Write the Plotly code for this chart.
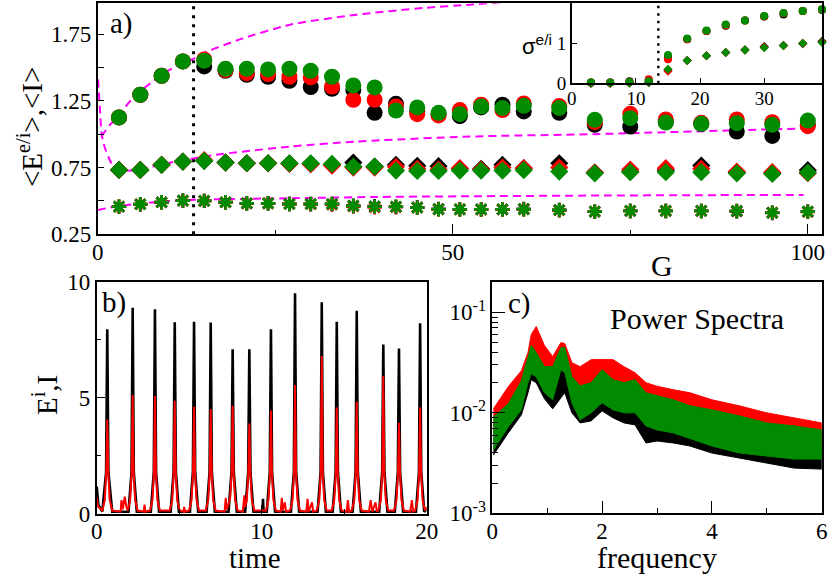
import numpy as np
import plotly.graph_objects as go

# ---------------- data: panel a ----------------
G = [3, 6, 9, 12, 15, 18, 21, 24, 27, 30, 33, 36, 39, 42, 45, 48, 51, 54, 57, 60,
     65, 70, 75, 80, 85, 90, 95, 100]

circ_black = [1.125, 1.295, 1.437, 1.545, 1.507, 1.475, 1.445, 1.43, 1.40, 1.353, 1.34, 1.33, 1.16, 1.227,
              1.17, 1.15, 1.135, 1.20, 1.22, 1.17, 1.16, 1.07, 1.057, 1.095, 1.077, 1.02, 0.987, 1.07]
circ_red = [1.125, 1.295, 1.437, 1.545, 1.56, 1.48, 1.457, 1.45, 1.43, 1.425, 1.357, 1.257, 1.257, 1.207,
            1.15, 1.14, 1.18, 1.22, 1.18, 1.23, 1.21, 1.09, 1.152, 1.11, 1.085, 1.11, 1.09, 1.06]
circ_green = [1.125, 1.295, 1.437, 1.545, 1.55, 1.49, 1.49, 1.485, 1.49, 1.475, 1.43, 1.365, 1.35, 1.177,
              1.2, 1.16, 1.15, 1.207, 1.195, 1.212, 1.195, 1.107, 1.12, 1.087, 1.077, 1.082, 1.07, 1.102]

diam_black = [0.732, 0.732, 0.77, 0.795, 0.80, 0.787, 0.782, 0.782, 0.78, 0.778, 0.772, 0.787, 0.757, 0.77,
              0.763, 0.76, 0.74, 0.74, 0.77, 0.745, 0.782, 0.712, 0.72, 0.73, 0.765, 0.712, 0.708, 0.73]
diam_red = [0.732, 0.732, 0.77, 0.795, 0.805, 0.787, 0.782, 0.782, 0.778, 0.775, 0.765, 0.75, 0.75, 0.755,
            0.74, 0.735, 0.745, 0.735, 0.75, 0.745, 0.75, 0.712, 0.735, 0.745, 0.74, 0.72, 0.715, 0.708]
diam_green = [0.732, 0.732, 0.77, 0.795, 0.80, 0.787, 0.782, 0.782, 0.782, 0.782, 0.777, 0.757, 0.757, 0.727,
              0.725, 0.725, 0.727, 0.727, 0.727, 0.73, 0.72, 0.707, 0.715, 0.715, 0.715, 0.707, 0.702, 0.712]

star_black = [0.457, 0.475, 0.49, 0.502, 0.5, 0.49, 0.482, 0.482, 0.477, 0.477, 0.477, 0.465, 0.46, 0.455,
              0.452, 0.44, 0.437, 0.437, 0.437, 0.44, 0.432, 0.42, 0.425, 0.425, 0.425, 0.422, 0.41, 0.42]
star_red = [0.457, 0.475, 0.49, 0.502, 0.5, 0.49, 0.482, 0.482, 0.477, 0.475, 0.472, 0.458, 0.452, 0.455,
            0.45, 0.437, 0.437, 0.435, 0.437, 0.437, 0.43, 0.42, 0.425, 0.425, 0.425, 0.425, 0.412, 0.418]
star_green = [0.457, 0.475, 0.49, 0.502, 0.5, 0.49, 0.482, 0.482, 0.477, 0.477, 0.477, 0.462, 0.457, 0.457,
              0.45, 0.437, 0.437, 0.437, 0.437, 0.437, 0.432, 0.42, 0.425, 0.425, 0.425, 0.425, 0.412, 0.42]

# magenta dashed guide curves
up_g = [0.5, 1.7, 2.9, 4.3, 5.7, 7.4, 9.0, 11.4, 13.2, 14.9, 20, 27.1, 36.5, 45.9, 52.4, 60]
up_v = [0.98, 1.07, 1.13, 1.23, 1.31, 1.38, 1.445, 1.52, 1.557, 1.607, 1.71, 1.82, 1.895, 1.945, 1.97, 2.0]
mid_g = [0.05, 0.3, 0.56, 1.0, 1.5, 2.2, 3.4, 5.3, 8.1, 10.9, 13.7, 16.5, 27.1, 36.5, 52.4, 69.8, 88.6, 101]
mid_v = [1.41, 1.2, 1.0, 0.9, 0.83, 0.757, 0.725, 0.732, 0.762, 0.795, 0.82, 0.845, 0.907, 0.945, 0.982,
         1.0, 1.027, 1.045]
low_g = [0, 2.4, 5.3, 9, 12.8, 16, 27, 40, 52.4, 70, 85, 99.4]
low_v = [0.432, 0.457, 0.477, 0.495, 0.507, 0.512, 0.52, 0.53, 0.535, 0.54, 0.543, 0.545]

G_c = 13.5

# inset: sigma
Gi = [3, 6, 9, 12, 15, 18, 21, 24, 27, 30, 33, 36, 39]
sig_c_black = [0.02, 0.02, 0.05, 0.07, 0.65, 1.1, 1.31, 1.44, 1.57, 1.67, 1.72, 1.81, 1.83]
sig_c_red = [0.02, 0.02, 0.04, 0.1, 0.6, 1.1, 1.31, 1.45, 1.57, 1.67, 1.75, 1.81, 1.85]
sig_c_green = [0.02, 0.02, 0.03, 0.05, 0.71, 1.12, 1.32, 1.47, 1.57, 1.68, 1.76, 1.81, 1.85]
sig_d_black = [0.0, 0.0, 0.01, 0.02, 0.33, 0.57, 0.69, 0.77, 0.84, 0.92, 0.95, 0.99, 1.05]
sig_d_red = [0.0, 0.0, 0.01, 0.02, 0.30, 0.57, 0.69, 0.77, 0.83, 0.90, 0.94, 1.0, 1.03]
sig_d_green = [0.0, 0.0, 0.01, 0.02, 0.35, 0.57, 0.69, 0.77, 0.83, 0.89, 0.94, 1.0, 1.02]

# ---------------- data: panel b (time series) ----------------
t_e = [0, 0.1, 0.34, 0.57, 0.64, 0.71, 0.94,
       1.93, 2.11, 2.18, 2.25, 2.43,
       3.28, 3.46, 3.53, 3.60, 3.78,
       4.48, 4.66, 4.73, 4.80, 4.98,
       5.65, 5.83, 5.90, 5.97, 6.15,
       6.66, 6.84, 6.91, 6.98, 7.16,
       7.99, 8.17, 8.24, 8.31, 8.49,
       9.00, 9.18, 9.25, 9.32, 9.50,
       10.05, 10.08, 10.11,
       10.31, 10.49, 10.56, 10.63, 10.81,
       11.77, 11.95, 12.02, 12.09, 12.27,
       13.39, 13.57, 13.64, 13.71, 13.89,
       14.30, 14.48, 14.55, 14.62, 14.80,
       15.51, 15.69, 15.76, 15.83, 16.01,
       17.12, 17.30, 17.37, 17.44, 17.62,
       18.07, 18.25, 18.32, 18.39, 18.57,
       19.35, 19.53, 19.60, 19.67, 19.85, 20.0]
e_val = [1.18, 0.4, 0.1, 1.8, 7.95, 1.8, 0.1,
         0.1, 1.8, 8.88, 1.8, 0.1,
         0.1, 1.8, 8.81, 1.8, 0.1,
         0.1, 1.8, 8.25, 1.8, 0.1,
         0.1, 1.8, 8.28, 1.8, 0.1,
         0.1, 1.8, 8.24, 1.8, 0.1,
         0.1, 1.8, 7.09, 1.8, 0.1,
         0.1, 1.8, 7.09, 1.8, 0.1,
         0.1, 0.65, 0.1,
         0.1, 1.8, 7.95, 1.8, 0.1,
         0.1, 1.8, 9.50, 1.8, 0.1,
         0.1, 1.8, 9.11, 1.8, 0.1,
         0.1, 1.8, 8.28, 1.8, 0.1,
         0.1, 1.8, 8.75, 1.8, 0.1,
         0.1, 1.8, 7.30, 1.8, 0.1,
         0.1, 1.8, 7.12, 1.8, 0.1,
         0.1, 1.8, 8.21, 1.8, 0.1, 0.2]

t_i = [0, 0.1, 0.34, 0.49, 0.58, 0.64, 0.70, 0.79, 0.94,
       1.45, 1.5, 1.58, 1.7, 1.8,
       1.88, 2.03, 2.12, 2.18, 2.24, 2.33, 2.48,
       2.85, 2.9, 2.95,
       3.23, 3.38, 3.47, 3.53, 3.59, 3.68, 3.83,
       4.43, 4.58, 4.67, 4.73, 4.79, 4.88, 5.03,
       5.25, 5.3, 5.35,
       5.60, 5.75, 5.84, 5.90, 5.96, 6.05, 6.20,
       6.61, 6.76, 6.85, 6.91, 6.97, 7.06, 7.21,
       7.75, 7.82, 7.88,
       7.94, 8.09, 8.18, 8.24, 8.30, 8.39, 8.54,
       8.85, 8.95, 9.0,
       9.02, 9.10, 9.19, 9.25, 9.31, 9.40, 9.55,
       10.26, 10.41, 10.50, 10.56, 10.62, 10.71, 10.86,
       11.15, 11.22, 11.28, 11.4, 11.48,
       11.72, 11.87, 11.96, 12.02, 12.08, 12.17, 12.32,
       12.7, 12.78, 12.85, 13.05, 13.12,
       13.34, 13.49, 13.58, 13.64, 13.70, 13.79, 13.94,
       14.25, 14.40, 14.49, 14.55, 14.61, 14.70, 14.85,
       15.15, 15.22, 15.3,
       15.46, 15.61, 15.70, 15.76, 15.82, 15.91, 16.06,
       16.5, 16.6, 16.7, 16.9, 16.98,
       17.07, 17.22, 17.31, 17.37, 17.43, 17.52, 17.67,
       18.02, 18.17, 18.26, 18.32, 18.38, 18.47, 18.62,
       19.0, 19.1, 19.18,
       19.30, 19.45, 19.54, 19.60, 19.66, 19.75, 19.90, 20.0]
i_val = [0.7, 0.3, 0.15, 0.6, 1.8, 4.07, 1.8, 0.6, 0.15,
         0.1, 0.6, 0.2, 0.75, 0.3,
         0.15, 0.6, 1.8, 5.12, 1.8, 0.6, 0.15,
         0.1, 0.4, 0.1,
         0.15, 0.6, 1.8, 5.08, 1.8, 0.6, 0.15,
         0.15, 0.6, 1.8, 4.88, 1.8, 0.6, 0.15,
         0.1, 0.3, 0.1,
         0.15, 0.6, 1.8, 4.62, 1.8, 0.6, 0.15,
         0.15, 0.6, 1.8, 4.52, 1.8, 0.6, 0.15,
         0.1, 0.7, 0.2,
         0.3, 0.7, 1.8, 4.66, 1.8, 0.6, 0.15,
         0.1, 0.8, 0.3,
         0.35, 0.6, 1.8, 3.90, 1.8, 0.6, 0.15,
         0.15, 0.6, 1.8, 4.45, 1.8, 0.6, 0.15,
         0.1, 0.7, 0.15, 0.5, 0.1,
         0.15, 0.6, 1.8, 5.55, 1.8, 0.6, 0.15,
         0.1, 0.65, 0.1, 0.5, 0.1,
         0.15, 0.6, 1.8, 6.80, 1.8, 0.6, 0.15,
         0.15, 0.6, 1.8, 4.58, 1.8, 0.6, 0.15,
         0.1, 0.6, 0.1,
         0.15, 0.6, 1.8, 4.83, 1.8, 0.6, 0.15,
         0.1, 0.6, 0.1, 0.5, 0.1,
         0.15, 0.6, 1.8, 5.94, 1.8, 0.6, 0.15,
         0.15, 0.6, 1.8, 3.93, 1.8, 0.6, 0.15,
         0.1, 0.6, 0.1,
         0.15, 0.6, 1.8, 4.58, 1.8, 0.6, 0.15, 0.3]

# ---------------- data: panel c (power spectra, log10 envelopes) ----------------
freq = [0.02, 0.29, 0.53, 0.65, 0.71, 0.8, 0.95, 1.1, 1.25, 1.32, 1.45, 1.6, 1.8, 2.0, 2.2, 2.4,
        2.6, 2.8, 3.0, 3.3, 3.6, 4.0, 4.5, 5.0, 5.5, 6.0]
red_top = [-1.96, -1.74, -1.58, -1.40, -1.22, -1.14, -1.33, -1.44, -1.30, -1.31, -1.50, -1.54, -1.47,
           -1.47, -1.47, -1.54, -1.60, -1.70, -1.735, -1.77, -1.80, -1.87, -1.93, -2.0, -2.05, -2.10]
red_bot = [-2.14, -2.01, -1.81, -1.62, -1.44, -1.44, -1.57, -1.60, -1.47, -1.47, -1.70, -1.735, -1.735,
           -1.70, -1.735, -1.77, -1.83, -1.93, -1.97, -2.0, -2.07, -2.13, -2.20, -2.26, -2.30, -2.33]
green_top = [-2.04, -1.91, -1.68, -1.44, -1.33, -1.40, -1.54, -1.54, -1.35, -1.35, -1.64, -1.73, -1.70,
             -1.57, -1.67, -1.70, -1.67, -1.80, -1.83, -1.87, -1.93, -1.97, -2.03, -2.10, -2.13, -2.17]
green_bot = [-2.37, -2.14, -1.97, -1.70, -1.61, -1.64, -1.80, -1.87, -1.57, -1.60, -1.90, -2.07, -2.0,
             -1.90, -1.97, -2.0, -2.0, -2.13, -2.17, -2.20, -2.26, -2.33, -2.40, -2.43, -2.46, -2.46]
black_top = [-2.10, -1.95, -1.72, -1.50, -1.40, -1.45, -1.60, -1.63, -1.55, -1.50, -1.70, -1.76, -1.74,
             -1.62, -1.71, -1.74, -1.72, -1.84, -1.87, -1.91, -1.97, -2.0, -2.07, -2.13, -2.16, -2.20]
black_bot = [-2.42, -2.20, -2.02, -1.80, -1.67, -1.70, -1.86, -1.96, -1.85, -1.80, -2.0, -2.10, -2.08,
             -1.98, -2.05, -2.10, -2.12, -2.30, -2.28, -2.30, -2.33, -2.40, -2.45, -2.50, -2.55, -2.56]

# ---------------- style ----------------
BLACK, RED, GREEN, MAG = "#000000", "#ff0000", "#008b00", "#ff00ff"
SERIF = "Liberation Serif, DejaVu Serif, serif"
SANS = "Liberation Sans, Arial, sans-serif"
W, H = 830, 576


def px_x(p):
    return p / W


def px_y(p):
    return 1 - p / H


fig = go.Figure()

# panel a: dashed guide curves
for gx, gv in [(up_g, up_v), (mid_g, mid_v), (low_g, low_v)]:
    fig.add_trace(go.Scatter(x=gx, y=gv, mode="lines", line=dict(color=MAG, width=2, dash="8px,5px",
                                                               shape="spline", smoothing=0.6),
                             xaxis="x", yaxis="y", showlegend=False, hoverinfo="skip"))

# dotted threshold line (panel a)
fig.add_trace(go.Scatter(x=[G_c, G_c], y=[0.25, 1.98], mode="lines",
                         line=dict(color=BLACK, width=3, dash="3px,6px"),
                         xaxis="x", yaxis="y", showlegend=False))

for col, st, di, ci in [(BLACK, star_black, diam_black, circ_black),
                        (RED, star_red, diam_red, circ_red),
                        (GREEN, star_green, diam_green, circ_green)]:
    fig.add_trace(go.Scatter(x=G, y=ci, mode="markers", xaxis="x", yaxis="y", showlegend=False,
                             marker=dict(symbol="circle", size=16, color=col, line=dict(width=0))))
    fig.add_trace(go.Scatter(x=G, y=di, mode="markers", xaxis="x", yaxis="y", showlegend=False,
                             marker=dict(symbol="diamond", size=14, color=col, line=dict(width=0))))
    fig.add_trace(go.Scatter(x=G, y=st, mode="markers", xaxis="x", yaxis="y", showlegend=False,
                             marker=dict(symbol="asterisk-open", size=12, color=col,
                                         line=dict(color=col, width=2.8))))

# inset
fig.add_trace(go.Scatter(x=[G_c, G_c], y=[0, 2], mode="lines",
                         line=dict(color=BLACK, width=2.5, dash="2.5px,5px"),
                         xaxis="x2", yaxis="y2", showlegend=False))
for col, sd in [(BLACK, sig_d_black), (RED, sig_d_red), (GREEN, sig_d_green)]:
    fig.add_trace(go.Scatter(x=Gi, y=sd, mode="markers", xaxis="x2", yaxis="y2", showlegend=False,
                             cliponaxis=False,
                             marker=dict(symbol="diamond", size=7, color=col, line=dict(width=0))))
for col, sc in [(BLACK, sig_c_black), (RED, sig_c_red), (GREEN, sig_c_green)]:
    fig.add_trace(go.Scatter(x=Gi, y=sc, mode="markers", xaxis="x2", yaxis="y2", showlegend=False,
                             cliponaxis=False,
                             marker=dict(symbol="circle", size=8, color=col, line=dict(width=0))))

# panel b
fig.add_trace(go.Scatter(x=t_e, y=e_val, mode="lines", line=dict(color=BLACK, width=2.6),
                         xaxis="x3", yaxis="y3", showlegend=False))
fig.add_trace(go.Scatter(x=t_i, y=i_val, mode="lines", line=dict(color=RED, width=2),
                         xaxis="x3", yaxis="y3", showlegend=False))

# panel c: noisy spectra drawn as bands between the read envelopes
for col, top, bot in [(BLACK, black_top, black_bot), (RED, red_top, red_bot),
                      (GREEN, green_top, green_bot)]:
    fx = list(freq) + list(freq)[::-1]
    fy = list(10 ** np.array(top)) + list(10 ** np.array(bot))[::-1]
    fig.add_trace(go.Scatter(x=fx, y=fy, mode="lines", fill="toself", fillcolor=col,
                             line=dict(color=col, width=1), xaxis="x4", yaxis="y4", showlegend=False))

# ---------------- axes ----------------
frame = dict(showline=True, linecolor=BLACK, linewidth=1.5, mirror=True, ticks="inside",
             tickcolor=BLACK, tickwidth=1.2, showgrid=False, zeroline=False, automargin=False,
             tickfont=dict(family=SERIF, size=23, color=BLACK))
xlab = dict(ticklabelstandoff=-4)

fig.update_layout(
    template="none",
    width=W, height=H, margin=dict(l=0, r=0, t=0, b=0, autoexpand=False),
    paper_bgcolor="white", plot_bgcolor="rgba(0,0,0,0)",
    font=dict(family=SERIF, color=BLACK),
    xaxis=dict(frame, **xlab, domain=[px_x(97.7), px_x(822)], range=[0, 102], anchor="y",
               tickvals=[0, 50, 100], ticklen=11,
               minor=dict(tickvals=[25, 75], ticklen=5, ticks="inside", tickcolor=BLACK)),
    yaxis=dict(frame, domain=[px_y(234.3), px_y(3.3)], range=[0.25, 1.98], anchor="x",
               tickvals=[0.25, 0.75, 1.25, 1.75], ticklen=7,
               minor=dict(tickvals=[0.5, 1.0, 1.5], ticklen=7, ticks="inside", tickcolor=BLACK)),
    xaxis2=dict(frame, domain=[px_x(571.7), px_x(822)], range=[0, 39], anchor="y2",
                tickvals=[0, 10, 20, 30], ticklen=6, ticklabelstandoff=-3,
                tickfont=dict(family=SERIF, size=19)),
    yaxis2=dict(frame, domain=[px_y(83.3), px_y(3.3)], range=[0, 2], anchor="x2",
                tickvals=[0, 1], ticklen=6, tickfont=dict(family=SERIF, size=19)),
    xaxis3=dict(frame, **xlab, domain=[px_x(96.7), px_x(426.7)], range=[0, 20], anchor="y3",
                tickvals=[0, 10, 20], ticklen=9,
                minor=dict(tickvals=[5, 15], ticklen=5, ticks="inside", tickcolor=BLACK)),
    yaxis3=dict(frame, domain=[px_y(514), px_y(281.7)], range=[0, 10], anchor="x3",
                tickvals=[0, 5, 10], ticklen=9,
                minor=dict(tickvals=[2.5, 7.5], ticklen=5, ticks="inside", tickcolor=BLACK)),
    xaxis4=dict(frame, **xlab, domain=[px_x(492.3), px_x(821.7)], range=[0, 6], anchor="y4",
                tickvals=[0, 2, 4, 6], ticklen=13,
                minor=dict(tickvals=[1, 3, 5], ticklen=6, ticks="inside", tickcolor=BLACK)),
    yaxis4=dict(frame, type="log", domain=[px_y(513.3), px_y(282.3)], range=[-3, -0.7], anchor="x4",
                tickvals=[0.001, 0.01, 0.1],
                ticktext=["10<sup>-3</sup>", "10<sup>-2</sup>", "10<sup>-1</sup>"], ticklen=13,
                minor=dict(tickvals=[m * d for d in (0.001, 0.01, 0.1) for m in range(2, 10)],
                           ticklen=6, ticks="inside", tickcolor=BLACK)),
)


# ---------------- text ----------------
def label(text, x, y, size, family=SERIF, angle=0):
    fig.add_annotation(text=text, x=px_x(x), y=px_y(y), xref="paper", yref="paper",
                       showarrow=False, textangle=angle, xanchor="center", yanchor="middle",
                       font=dict(family=family, size=size, color=BLACK))


label("a)", 121, 24, 29)
label("b)", 114, 302, 29)
label("c)", 519, 303, 29)
label("Power Spectra", 697, 318, 30)
label("G", 662, 265, 30)
label("time", 255, 558, 29)
label("frequency", 657, 557, 30)
label("&lt;E<sup>e/i</sup>&gt;,&lt;I&gt;", 30, 127, 29, angle=-90)
label("E<sup>i</sup>,I", 45, 395, 29, angle=-90)
label("σ<sup>e/i</sup>", 537, 45, 22, family=SANS)

# the page body has a default 8px margin; drop it so the figure sits at the window origin
fig.write_html("out.html", config={"displayModeBar": False},
               post_script="document.body.style.margin='0';")
